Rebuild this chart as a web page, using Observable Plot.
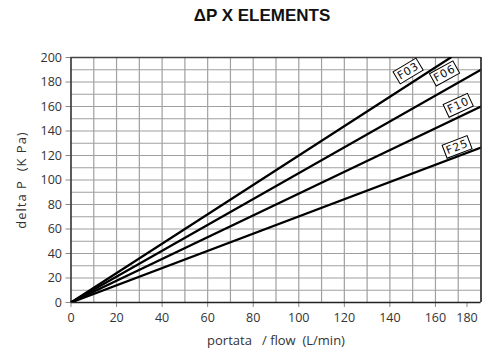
<!DOCTYPE html>
<html>
<head>
<meta charset="utf-8">
<script src="https://cdn.jsdelivr.net/npm/d3@7"></script>
<script src="https://cdn.jsdelivr.net/npm/@observablehq/plot@0.6"></script>
<style>
  body { margin: 0; background: #fff; }
  #wrap { position: relative; width: 482px; height: 348px; }
  #title { position: absolute; left: 0; width: 524px; top: 6px; text-align: center;
           font: bold 17px "Liberation Sans", Arial, sans-serif; color: #111; }
</style>
</head>
<body>
<div id="wrap"><div id="title">ΔP X ELEMENTS</div></div>
<script>
// ---- data ----
const series = ["F03", "F06", "F10", "F25"];
const startFlow = [0, 0, 0, 0];
const startDp = [0, 0, 0, 0];
const endFlow = [166.7, 180, 180, 180];
const endDp = [200, 190, 160, 126.5];
const labelFlow = [148, 164, 170, 169.5];
const labelDp = [189, 187, 161, 127];
const labelAngle = [-31, -29, -25, -21];
const xTicks = [0, 20, 40, 60, 80, 100, 120, 140, 160];
const xLastTick = [180];
const yTicks = [0, 20, 40, 60, 80, 100, 120, 140, 160, 180, 200];
const gridStepX = d3.range(0, 181, 10);
const gridStepY = d3.range(0, 201, 10);

const lineData = series.flatMap((s, i) => [
  {s, flow: startFlow[i], dp: startDp[i]},
  {s, flow: endFlow[i], dp: endDp[i]}
]);
const labelData = series.map((s, i) => ({s, flow: labelFlow[i], dp: labelDp[i], a: labelAngle[i]}));

const font = '"Open Sans", "Noto Sans", sans-serif';

const chart = Plot.plot({
  width: 482,
  height: 348,
  marginLeft: 70.5,
  marginRight: 1.5,
  marginTop: 57,
  marginBottom: 46,
  style: {fontFamily: font, fontSize: "12px", color: "#333", background: "#fff"},
  x: {domain: [0, 180]},
  y: {domain: [0, 200]},
  marks: [
    Plot.gridX(gridStepX, {stroke: "#a0a0a0", strokeOpacity: 1, strokeWidth: 1.2}),
    Plot.gridY(gridStepY, {stroke: "#a0a0a0", strokeOpacity: 1, strokeWidth: 1.2}),
    Plot.axisX({ticks: xTicks, tickSize: 5, tickPadding: 6, fontSize: 12.5, stroke: "#888",
      label: null}),
    Plot.axisX({ticks: xLastTick, tickSize: 5, tickPadding: 6, fontSize: 12.5, stroke: "#888",
      dx: -14, label: null}),
    Plot.axisX({ticks: [], tickSize: 0,
      label: "portata   / flow  (L/min)", labelAnchor: "center", labelArrow: "none", labelOffset: 42,
      fontSize: 13}),
    Plot.axisY({ticks: yTicks, tickSize: 5, tickPadding: 4, fontSize: 12.5, stroke: "#888",
      label: null}),
    Plot.axisY({ticks: [], tickSize: 0,
      label: "delta P  (K Pa)", labelAnchor: "center", labelArrow: "none", labelOffset: 54,
      fontSize: 13}),
    Plot.ruleX([0], {stroke: "#222", strokeWidth: 1.3}),
    Plot.ruleY([0], {stroke: "#222", strokeWidth: 1.3}),
    Plot.ruleY([200], {stroke: "#444", strokeWidth: 1.3}),
    Plot.ruleX([180], {stroke: "#222", strokeWidth: 1.5}),
    Plot.line(lineData, {x: "flow", y: "dp", z: "s", stroke: "#000", strokeWidth: 2.3, clip: true}),
    Plot.text(labelData, {x: "flow", y: "dp", text: "s", rotate: "a", fontSize: 11,
      fill: "#111", className: "flabel", fontFamily: "'DejaVu Sans', sans-serif"})
  ]
});

document.getElementById("wrap").appendChild(chart);

d3.select(chart).selectAll("g.flabel text").style("letter-spacing", "0.8px");
d3.select(chart).selectAll("text").filter(function() {
  return this.textContent.startsWith("delta");
}).style("letter-spacing", "1px");

// draw boxes behind rotated labels
d3.select(chart).selectAll("g.flabel text").each(function() {
  const b = this.getBBox();
  const pad = 2;
  const r = document.createElementNS("http://www.w3.org/2000/svg", "rect");
  r.setAttribute("x", b.x - pad);
  r.setAttribute("y", b.y - 0.5);
  r.setAttribute("width", b.width + 2 * pad);
  r.setAttribute("height", b.height + 1);
  r.setAttribute("fill", "#fff");
  r.setAttribute("stroke", "#000");
  r.setAttribute("stroke-width", "1");
  const t = this.getAttribute("transform");
  if (t) r.setAttribute("transform", t);
  this.parentNode.insertBefore(r, this);
});
</script>
</body>
</html>
